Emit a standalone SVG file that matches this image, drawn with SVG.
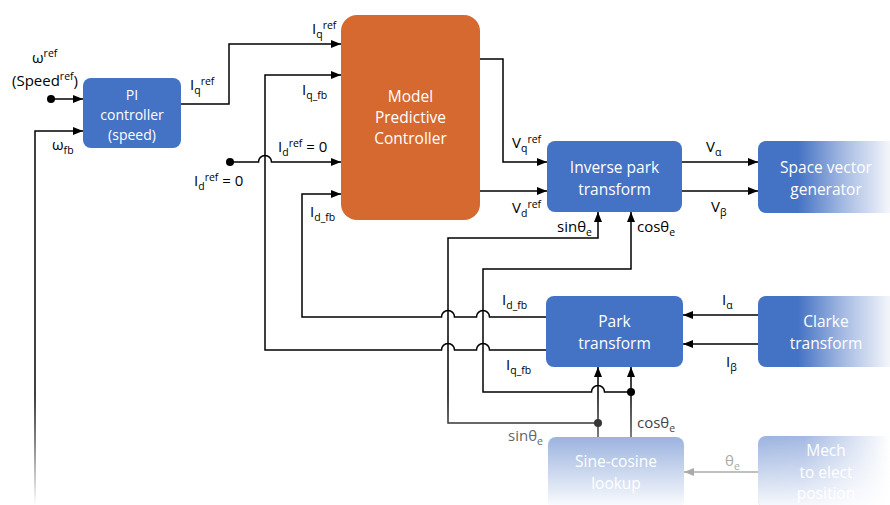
<svg xmlns="http://www.w3.org/2000/svg" width="890" height="505" viewBox="0 0 890 505">
  <style>
    .bt { font-family: "Open Sans", "Noto Sans", sans-serif; fill: #fff; text-anchor: middle; font-size: 15.5px; }
    .lb { font-family: "Open Sans", "Noto Sans", sans-serif; fill: #000; font-size: 15px; }
    .s { font-size: 10.5px; }
    .w { fill: none; stroke: #000; stroke-width: 1.5; }
    .f { stroke: url(#fadeStroke); }
    .blue { fill: #4472C4; }
  </style>
  <defs>
    <marker id="ah" markerWidth="10" markerHeight="10" viewBox="0 0 10 10" refX="10" refY="5" orient="auto" markerUnits="userSpaceOnUse">
      <path d="M0,1 L10,5 L0,9 z" fill="#000"/>
    </marker>
    <marker id="ahg" markerWidth="10" markerHeight="10" viewBox="0 0 10 10" refX="10" refY="5" orient="auto" markerUnits="userSpaceOnUse">
      <path d="M0,1 L10,5 L0,9 z" fill="#aaa"/>
    </marker>
    <linearGradient id="fadeStroke" gradientUnits="userSpaceOnUse" x1="0" y1="395" x2="0" y2="505">
      <stop offset="0" stop-color="#000"/>
      <stop offset="0.4" stop-color="#555"/>
      <stop offset="1" stop-color="#fff"/>
    </linearGradient>
    <linearGradient id="hfade" gradientUnits="userSpaceOnUse" x1="758" y1="0" x2="890" y2="0">
      <stop offset="0" stop-color="#4472C4"/>
      <stop offset="0.3" stop-color="#4472C4"/>
      <stop offset="0.65" stop-color="#A6BBE3"/>
      <stop offset="1" stop-color="#F4F6FB"/>
    </linearGradient>
    <linearGradient id="vfade" gradientUnits="userSpaceOnUse" x1="0" y1="437" x2="0" y2="505">
      <stop offset="0" stop-color="#9CB3DF"/>
      <stop offset="1" stop-color="#F8FAFD"/>
    </linearGradient>
    <linearGradient id="hfade2" gradientUnits="userSpaceOnUse" x1="758" y1="0" x2="890" y2="0">
      <stop offset="0" stop-color="#9CB3DF"/>
      <stop offset="0.35" stop-color="#A3B8E2"/>
      <stop offset="1" stop-color="#FFFFFF"/>
    </linearGradient>
    <linearGradient id="vwhite" gradientUnits="userSpaceOnUse" x1="0" y1="436" x2="0" y2="505">
      <stop offset="0" stop-color="#fff" stop-opacity="0"/>
      <stop offset="1" stop-color="#fff" stop-opacity="0.9"/>
    </linearGradient>
  </defs>

  <!-- connectors -->
  <g id="connectors">
    <path class="w" d="M51 99 H83" marker-end="url(#ah)"/>
    <path class="w f" d="M35 505 V131 H83" marker-end="url(#ah)"/>
    <path class="w" d="M181 104 H229 V44 H341" marker-end="url(#ah)"/>
    <path class="w" d="M546 350 H489.5 A6.5 6.5 0 0 0 476.5 350 H454.5 A6.5 6.5 0 0 0 441.5 350 H265 V75 H341" marker-end="url(#ah)"/>
    <path class="w" d="M546 317 H489.5 A6.5 6.5 0 0 0 476.5 317 H454.5 A6.5 6.5 0 0 0 441.5 317 H302 V194 H341" marker-end="url(#ah)"/>
    <path class="w" d="M230 162 H258.5 A6.5 6.5 0 0 1 271.5 162 H341" marker-end="url(#ah)"/>
    <path class="w" d="M480 59 H503 V162 H547" marker-end="url(#ah)"/>
    <path class="w" d="M480 191 H547" marker-end="url(#ah)"/>
    <path class="w" d="M682 162 H758" marker-end="url(#ah)"/>
    <path class="w" d="M682 191 H758" marker-end="url(#ah)"/>
    <path class="w" d="M758 315 H683" marker-end="url(#ah)"/>
    <path class="w" d="M758 344 H683" marker-end="url(#ah)"/>
    <path class="w f" d="M598 437 V423 H448 V238 H598 V212" marker-end="url(#ah)"/>
    <path class="w f" d="M598 423 V367" marker-end="url(#ah)"/>
    <path class="w f" d="M631 437 V392 H604.5 A6.5 6.5 0 0 0 591.5 392 H483 V269 H631 V212" marker-end="url(#ah)"/>
    <path class="w f" d="M631 392 V367" marker-end="url(#ah)"/>
    <path class="w" style="stroke:#aaa" d="M758 472 H684" marker-end="url(#ahg)"/>
    <circle cx="51" cy="99" r="4" fill="#000"/>
    <circle cx="230" cy="162" r="4" fill="#000"/>
    <circle cx="598" cy="423" r="4" fill="#363636"/>
    <circle cx="631" cy="392" r="4" fill="#000"/>
  </g>

  <!-- labels -->
  <g id="labels">
    <text class="lb" x="32" y="63">ω<tspan class="s" dy="-6">ref</tspan></text>
    <text class="lb" x="12" y="86">(Speed<tspan class="s" dy="-6">ref</tspan><tspan dy="6">)</tspan></text>
    <text class="lb" x="52" y="150">ω<tspan class="s" dy="4">fb</tspan></text>
    <text class="lb" x="190" y="90">I<tspan class="s" dy="3.5">q</tspan><tspan class="s" dy="-8.5">ref</tspan></text>
    <text class="lb" x="312" y="34">I<tspan class="s" dy="3.5">q</tspan><tspan class="s" dy="-8.5">ref</tspan></text>
    <text class="lb" x="302" y="95">I<tspan class="s" dy="3.5">q_fb</tspan></text>
    <text class="lb" x="278" y="152">I<tspan class="s" dy="3.5">d</tspan><tspan class="s" dy="-8.5">ref</tspan><tspan dy="5"> = 0</tspan></text>
    <text class="lb" x="194" y="186">I<tspan class="s" dy="3.5">d</tspan><tspan class="s" dy="-8.5">ref</tspan><tspan dy="5"> = 0</tspan></text>
    <text class="lb" x="310" y="217">I<tspan class="s" dy="3.5">d_fb</tspan></text>
    <text class="lb" x="512" y="148">V<tspan class="s" dy="3.5">q</tspan><tspan class="s" dy="-8.5">ref</tspan></text>
    <text class="lb" x="512" y="213">V<tspan class="s" dy="3.5">d</tspan><tspan class="s" dy="-8.5">ref</tspan></text>
    <text class="lb" x="706" y="152">V<tspan class="s" dy="3.5">α</tspan></text>
    <text class="lb" x="711" y="212">V<tspan class="s" dy="3.5">β</tspan></text>
    <text class="lb" x="557" y="232">sinθ<tspan class="s" dy="3.5">e</tspan></text>
    <text class="lb" x="637" y="232">cosθ<tspan class="s" dy="3.5">e</tspan></text>
    <text class="lb" x="502" y="305">I<tspan class="s" dy="3.5">d_fb</tspan></text>
    <text class="lb" x="506" y="370">I<tspan class="s" dy="3.5">q_fb</tspan></text>
    <text class="lb" x="722" y="305">I<tspan class="s" dy="3.5">α</tspan></text>
    <text class="lb" x="726" y="367">I<tspan class="s" dy="3.5">β</tspan></text>
    <text class="lb" x="637" y="428" style="fill:#444">cosθ<tspan class="s" dy="3.5">e</tspan></text>
    <text class="lb" x="508" y="441" style="fill:#666">sinθ<tspan class="s" dy="3.5">e</tspan></text>
    <text class="lb" x="725" y="466" style="fill:#aaa">θ<tspan class="s" dy="3.5">e</tspan></text>
  </g>

  <!-- nodes -->
  <g id="pi-controller">
    <rect class="blue" x="83" y="78" width="98" height="70" rx="8"/>
    <text class="bt" x="132" y="100" style="font-size:14px">PI</text>
    <text class="bt" x="132" y="120" style="font-size:14px">controller</text>
    <text class="bt" x="132" y="140" style="font-size:14px">(speed)</text>
  </g>
  <g id="mpc">
    <rect x="341" y="15" width="139" height="205" rx="16" fill="#D5692F"/>
    <text class="bt" x="410.5" y="102">Model</text>
    <text class="bt" x="410.5" y="123">Predictive</text>
    <text class="bt" x="410.5" y="144">Controller</text>
  </g>
  <g id="inverse-park">
    <rect class="blue" x="547" y="141" width="135" height="71" rx="8"/>
    <text class="bt" x="614.5" y="173">Inverse park</text>
    <text class="bt" x="614.5" y="195">transform</text>
  </g>
  <g id="space-vector">
    <rect x="758" y="141" width="140" height="72" rx="8" fill="url(#hfade)"/>
    <text class="bt" x="826" y="173">Space vector</text>
    <text class="bt" x="826" y="195">generator</text>
  </g>
  <g id="park">
    <rect class="blue" x="546" y="296" width="137" height="71" rx="8"/>
    <text class="bt" x="614.5" y="327">Park</text>
    <text class="bt" x="614.5" y="349">transform</text>
  </g>
  <g id="clarke">
    <rect x="758" y="296" width="140" height="71" rx="8" fill="url(#hfade)"/>
    <text class="bt" x="826" y="327">Clarke</text>
    <text class="bt" x="826" y="349">transform</text>
  </g>
  <g id="sine-cosine">
    <rect x="548" y="437" width="136" height="72" rx="8" fill="url(#vfade)"/>
    <text class="bt" x="616" y="467">Sine-cosine</text>
    <text class="bt" x="616" y="489">lookup</text>
  </g>
  <g id="mech-elect">
    <rect x="758" y="436" width="140" height="72" rx="8" fill="url(#hfade2)"/>
    <rect x="758" y="436" width="140" height="72" rx="8" fill="url(#vwhite)"/>
    <text class="bt" x="826" y="456">Mech</text>
    <text class="bt" x="826" y="478">to elect</text>
    <text class="bt" x="826" y="499">position</text>
  </g>
</svg>
